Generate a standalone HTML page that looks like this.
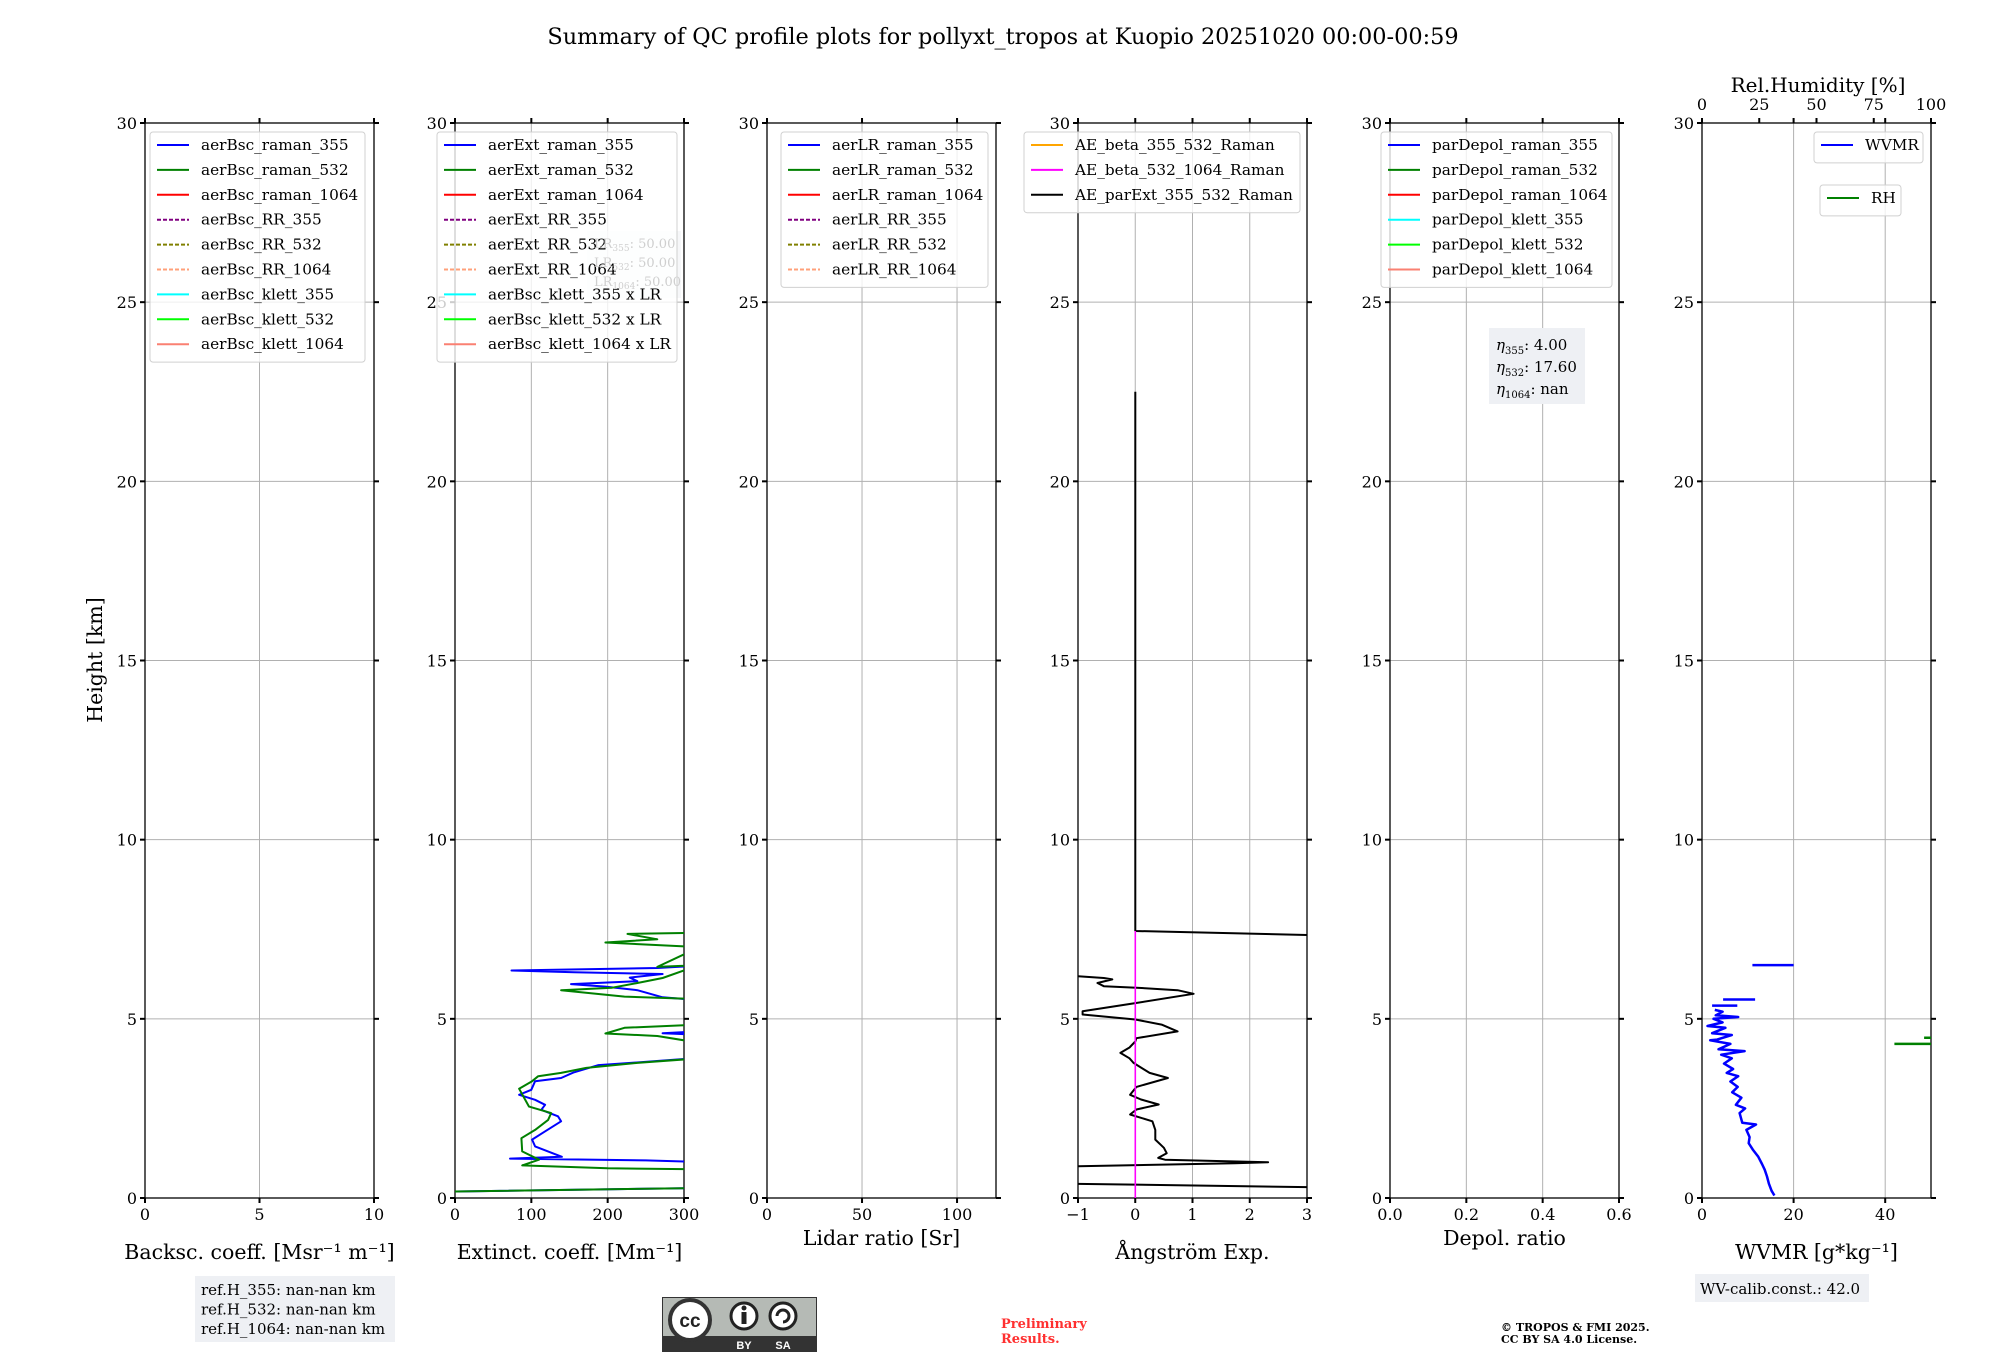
<!DOCTYPE html>
<html><head><meta charset="utf-8">
<style>
html,body{margin:0;padding:0;background:#fff;}
svg{display:block;font-family:"DejaVu Serif","Liberation Serif",serif;}
</style></head>
<body>
<svg id="fig" width="2000" height="1360" viewBox="0 0 2000 1360" xmlns="http://www.w3.org/2000/svg">
<text x="1003" y="44" font-size="22.4" text-anchor="middle">Summary of QC profile plots for pollyxt_tropos at Kuopio 20251020 00:00-00:59</text>
</svg>
<script>
// ---- data arrays ----
const yTicks = [0,5,10,15,20,25,30];
const ext355H = [0.18,0.28,0.95,1.02,1.05,1.1,1.15,1.44,1.63,1.82,2.14,2.28,2.46,2.6,2.74,2.88,3.02,3.26,3.35,3.5,3.71,3.78,3.88,3.95,4.55,4.6,4.66,5.5,5.6,5.8,5.9,5.97,6.05,6.15,6.25,6.3,6.35,6.42,6.5];
const ext355V = [0,320,320,300,250,72,140,105,101,115,139,135,113,118,105,84,100,105,139,155,188,238,300,330,330,272,330,330,272,239,197,152,239,229,272,156,74,265,330];
const ext532H = [0.18,0.28,0.8,0.83,0.91,1.07,1.3,1.67,1.9,2.18,2.37,2.55,2.74,3.05,3.26,3.4,3.49,3.63,3.77,3.9,4.84,4.75,4.59,4.52,4.33,5.55,5.62,5.8,5.87,6.0,6.14,6.5,6.45,7.0,7.13,7.22,7.37,7.4];
const ext532V = [0,320,320,200,88,110,88,87,105,122,126,97,92,84,101,109,139,172,239,320,320,222,197,265,320,320,222,139,206,239,272,320,265,320,197,265,226,320];
const aeH = [0.3,0.4,0.88,0.97,1.0,1.07,1.12,1.25,1.4,1.63,1.9,2.14,2.33,2.47,2.61,2.75,2.88,3.1,3.35,3.49,3.77,3.9,4.05,4.2,4.37,4.46,4.65,4.84,4.98,5.12,5.21,5.44,5.7,5.8,5.87,5.91,6.0,6.1,6.14,6.19];
const aeV = [3.2,-1.2,-1.2,1.74,2.32,0.52,0.4,0.55,0.5,0.35,0.35,0.3,-0.09,0.02,0.41,0.1,-0.09,0.02,0.57,0.25,-0.03,-0.1,-0.26,-0.1,0.0,0.02,0.74,0.46,0.0,-0.92,-0.92,0.0,1.02,0.74,0.02,-0.55,-0.66,-0.4,-0.55,-1.0];
const aeUpperH = [22.5,7.45,7.33];
const aeUpperV = [0,0,3.2];
const ae532H = [0,7.45];
const ae532V = [0,0];
const wvH = [0.07,0.2,0.4,0.6,0.79,0.95,1.15,1.35,1.53,1.7,1.9,2.05,2.1,2.37,2.5,2.6,2.8,2.95,3.1,3.25,3.4,3.49,3.6,3.75,3.9,4.0,4.1,4.15,4.3,4.4,4.42,4.55,4.6,4.75,4.8,4.9,5.0,5.05,5.1,5.2,5.25];
const wvV = [15.8,15.2,14.6,14.2,13.7,13.1,12.3,11.1,10.2,10.4,9.7,11.8,8.8,8.2,9.4,7.4,8.6,6.6,7.8,6.2,7.9,5.4,6.8,4.8,6.5,4.2,9.3,3.6,6.2,1.8,3.3,6.5,2.2,5.1,1.2,4.5,2.5,7.9,3.0,4.5,2.8];
const wvSegH = [5.37,5.54,6.5];
const wvSegStart = [2.2,4.6,11];
const wvSegEnd = [7.7,11.6,20];
const rhSegH = [4.3,4.47];
const rhSegStart = [84,97];
const rhSegEnd = [110,110];

const NS="http://www.w3.org/2000/svg";
const svg=document.getElementById('fig');
function mk(tag,attrs,parent){const e=document.createElementNS(NS,tag);for(const k in attrs)e.setAttribute(k,attrs[k]);(parent||svg).appendChild(e);return e;}

const TOP=123,BOT=1198,W=229;
const panels=[
 {L:145,x0:0,x1:10,ticks:[0,5,10],lab:['0','5','10'],xl:'Backsc. coeff. [Msr\u207B\u00B9 m\u207B\u00B9]',name:'backscatter'},
 {L:455,x0:0,x1:300,ticks:[0,100,200,300],lab:['0','100','200','300'],xl:'Extinct. coeff. [Mm\u207B\u00B9]',name:'extinction'},
 {L:767,x0:0,x1:120.5,ticks:[0,50,100],lab:['0','50','100'],xl:'Lidar ratio [Sr]',name:'lidar-ratio'},
 {L:1078,x0:-1,x1:3,ticks:[-1,0,1,2,3],lab:['\u22121','0','1','2','3'],xl:'\u00C5ngstr\u00F6m Exp.',name:'angstrom'},
 {L:1390,x0:0,x1:0.6,ticks:[0,0.2,0.4,0.6],lab:['0.0','0.2','0.4','0.6'],xl:'Depol. ratio',name:'depol'},
 {L:1702,x0:0,x1:50,ticks:[0,20,40],lab:['0','20','40'],xl:'WVMR [g*kg\u207B\u00B9]',name:'wvmr'}
];
function py(h){return BOT-(h/30)*(BOT-TOP);}
function pxf(p){return v=>p.L+(v-p.x0)/(p.x1-p.x0)*W;}

panels.forEach((p,i)=>{
  const px=pxf(p);
  const g=mk('g',{});
  
  
  const cp=mk('clipPath',{id:'clip'+i},g);
  mk('rect',{x:p.L,y:TOP,width:W,height:BOT-TOP},cp);
  yTicks.forEach(t=>{const l=mk('line',{x1:p.L,x2:p.L+W,y1:py(t),y2:py(t),stroke:'#b0b0b0','stroke-width':1},g);
    });
  p.ticks.forEach(t=>{const l=mk('line',{x1:px(t),x2:px(t),y1:TOP,y2:BOT,stroke:'#b0b0b0','stroke-width':1},g);
    });
  const fr=mk('rect',{x:p.L,y:TOP,width:W,height:BOT-TOP,fill:'none',stroke:'#000','stroke-width':1.3},g);
  
  yTicks.forEach(t=>{
    mk('line',{x1:p.L-5,x2:p.L,y1:py(t),y2:py(t),stroke:'#000','stroke-width':2},g);
    mk('line',{x1:p.L+W,x2:p.L+W+5,y1:py(t),y2:py(t),stroke:'#000','stroke-width':2},g);
    const tx=mk('text',{x:p.L-8,y:py(t)+6,'font-size':16,'text-anchor':'end'},g);
    tx.textContent=t;
    
  });
  p.ticks.forEach((t,j)=>{
    mk('line',{x1:px(t),x2:px(t),y1:BOT,y2:BOT+5,stroke:'#000','stroke-width':2},g);
    mk('line',{x1:px(t),x2:px(t),y1:TOP-5,y2:TOP,stroke:'#000','stroke-width':2},g);
    const tx=mk('text',{x:px(t),y:BOT+22,'font-size':16,'text-anchor':'middle'},g);
    tx.textContent=p.lab[j];
    
  });
  const xl=mk('text',{x:p.L+W/2,y:(i==2||i==4)?1245:1259,'font-size':20.5,'text-anchor':'middle'},g);
  xl.textContent=p.xl;
  
  p.g=g;p.px=px;
});
const yl=mk('text',{x:102,y:660,'font-size':20.5,'text-anchor':'middle',transform:'rotate(-90 102 660)'});
yl.textContent='Height [km]';


function series(p,i,H,V,color,name,w){
  const d=H.map((h,k)=>(k?'L':'M')+p.px(V[k]).toFixed(1)+','+py(h).toFixed(1)).join(' ');
  const e=mk('path',{d:d,fill:'none',stroke:color,'stroke-width':w||2,'clip-path':'url(#clip'+i+')','stroke-linejoin':'round'},p.g);
  
  
}
series(panels[1],1,ext355H,ext355V,'#0000ff','line-aerext-raman-355');
series(panels[1],1,ext532H,ext532V,'#008000','line-aerext-raman-532');
series(panels[3],3,aeH,aeV,'#000','line-ae-parext-355-532',2);
series(panels[3],3,aeUpperH,aeUpperV,'#000','line-ae-parext-upper',2);
series(panels[3],3,ae532H,ae532V,'#ff00ff','line-ae-beta-532-1064',1.6);
series(panels[5],5,wvH,wvV,'#0000ff','line-wvmr',2.5);
wvSegH.forEach((h,k)=>series(panels[5],5,[h,h],[wvSegStart[k],wvSegEnd[k]],'#0000ff','wvmr-segment',2.5));
const rhP={L:1702,x0:0,x1:100,px:v=>1702+v/100*W,g:panels[5].g};
rhSegH.forEach((h,k)=>series(rhP,5,[h,h],[rhSegStart[k],rhSegEnd[k]],'#008000','rh-segment',2.5));
[0,25,50,75,100].forEach(t=>{
  const tx=mk('text',{x:rhP.px(t),y:110,'font-size':16,'text-anchor':'middle'});
  tx.textContent=t;
  
  mk('line',{x1:rhP.px(t),x2:rhP.px(t),y1:TOP-5,y2:TOP,stroke:'#000','stroke-width':2});
});
const rht=mk('text',{x:1818,y:92,'font-size':20,'text-anchor':'middle'});
rht.textContent='Rel.Humidity [%]';


function legend(x,y,w,entries,name){
  const g=mk('g',{});
  
  
  mk('rect',{x:x,y:y,width:w,height:entries.length*24.9+6,rx:3,fill:'#fff','fill-opacity':0.8,stroke:'#d0d0d0'},g);
  entries.forEach((en,k)=>{
    const cy=y+13+k*24.9;
    mk('line',{x1:x+7,x2:x+39,y1:cy,y2:cy,stroke:en[1],'stroke-width':2,'stroke-dasharray':en[2]?'4,2':'none'},g);
    const t=mk('text',{x:x+51,y:cy+5,'font-size':15.3},g);
    t.textContent=en[0];
    
  });
}
const B='#0000ff',G='#008000',R='#ff0000',PU='#800080',OL='#808000',LS='#ffa07a',CY='#00ffff',LI='#00ff00',SA='#fa8072';
legend(150,132,215,[['aerBsc_raman_355',B],['aerBsc_raman_532',G],['aerBsc_raman_1064',R],['aerBsc_RR_355',PU,1],['aerBsc_RR_532',OL,1],['aerBsc_RR_1064',LS,1],['aerBsc_klett_355',CY],['aerBsc_klett_532',LI],['aerBsc_klett_1064',SA]],'legend-backscatter');
const lrb=mk('rect',{x:587,y:231,width:94,height:67,fill:'#eef0f4','fill-opacity':0.5});

legend(437,132,240,[['aerExt_raman_355',B],['aerExt_raman_532',G],['aerExt_raman_1064',R],['aerExt_RR_355',PU,1],['aerExt_RR_532',OL,1],['aerExt_RR_1064',LS,1],['aerBsc_klett_355 x LR',CY],['aerBsc_klett_532 x LR',LI],['aerBsc_klett_1064 x LR',SA]],'legend-extinction');
['355','532','1064'].forEach((s,k)=>{
  const t=mk('text',{x:594,y:248+k*19,'font-size':13,fill:'#cfcfcf'});
  t.innerHTML='LR<tspan font-size="9" dy="3">'+s+'</tspan><tspan dy="-3">: 50.00</tspan>';
  
});
legend(781,132,207,[['aerLR_raman_355',B],['aerLR_raman_532',G],['aerLR_raman_1064',R],['aerLR_RR_355',PU,1],['aerLR_RR_532',OL,1],['aerLR_RR_1064',LS,1]],'legend-lidar-ratio');
legend(1024,132,276,[['AE_beta_355_532_Raman','#ffa500'],['AE_beta_532_1064_Raman','#ff00ff'],['AE_parExt_355_532_Raman','#000']],'legend-angstrom');
legend(1381,132,231,[['parDepol_raman_355',B],['parDepol_raman_532',G],['parDepol_raman_1064',R],['parDepol_klett_355',CY],['parDepol_klett_532',LI],['parDepol_klett_1064',SA]],'legend-depol');
legend(1814,132,109,[['WVMR',B]],'legend-wvmr');
legend(1820,185,81,[['RH',G]],'legend-rh');

const eb=mk('rect',{x:1489,y:328,width:96,height:76,fill:'#eef0f4'});

[['355','4.00'],['532','17.60'],['1064','nan']].forEach((a,k)=>{
  const t=mk('text',{x:1496,y:350+k*22,'font-size':15});
  t.innerHTML='<tspan font-style="italic">\u03B7</tspan><tspan font-size="10" dy="4">'+a[0]+'</tspan><tspan dy="-4">: '+a[1]+'</tspan>';
  
});
const rb=mk('rect',{x:195,y:1276,width:200,height:66,fill:'#eef0f4'});

['ref.H_355: nan-nan km','ref.H_532: nan-nan km','ref.H_1064: nan-nan km'].forEach((s,k)=>{
  const t=mk('text',{x:201,y:1295+k*19.5,'font-size':15});t.textContent=s;
  
});
const wb=mk('rect',{x:1695,y:1274,width:174,height:28,fill:'#eef0f4'});

const wt=mk('text',{x:1700,y:1294,'font-size':15});wt.textContent='WV-calib.const.: 42.0';

const pr=mk('text',{x:1001,y:1328,'font-size':13,'font-weight':'bold',fill:'#ff3030'});
pr.innerHTML='<tspan x="1001">Preliminary</tspan><tspan x="1001" dy="15">Results.</tspan>';

const cpy=mk('text',{x:1501,y:1331,'font-size':11,'font-weight':'bold'});
cpy.innerHTML='<tspan x="1501">\u00A9 TROPOS &amp; FMI 2025.</tspan><tspan x="1501" dy="12">CC BY SA 4.0 License.</tspan>';

const cc=mk('g',{});

mk('rect',{x:662,y:1297,width:155,height:55,fill:'#333'},cc);
mk('rect',{x:663,y:1298,width:153,height:38,fill:'#b5bab5'},cc);
mk('circle',{cx:690,cy:1320,r:20,fill:'#fff',stroke:'#333','stroke-width':4},cc);
const cct=mk('text',{x:690,y:1327,'font-size':19,'font-weight':'bold','text-anchor':'middle','font-family':'Liberation Sans,sans-serif',fill:'#222'},cc);cct.textContent='cc';
mk('circle',{cx:744,cy:1316,r:13,fill:'#fff',stroke:'#222','stroke-width':3},cc);
mk('circle',{cx:744,cy:1308,r:2.5,fill:'#222'},cc);
mk('rect',{x:741.5,y:1312,width:5,height:12,fill:'#222'},cc);
mk('circle',{cx:783,cy:1316,r:13,fill:'#fff',stroke:'#222','stroke-width':3},cc);
mk('path',{d:'M777,1316 A6,6 0 1 1 783,1322',fill:'none',stroke:'#222','stroke-width':3},cc);
const by=mk('text',{x:744,y:1349,'font-size':11,'font-weight':'bold','text-anchor':'middle','font-family':'Liberation Sans,sans-serif',fill:'#fff'},cc);by.textContent='BY';
const sa=mk('text',{x:783,y:1349,'font-size':11,'font-weight':'bold','text-anchor':'middle','font-family':'Liberation Sans,sans-serif',fill:'#fff'},cc);sa.textContent='SA';
</script>
</body></html>
